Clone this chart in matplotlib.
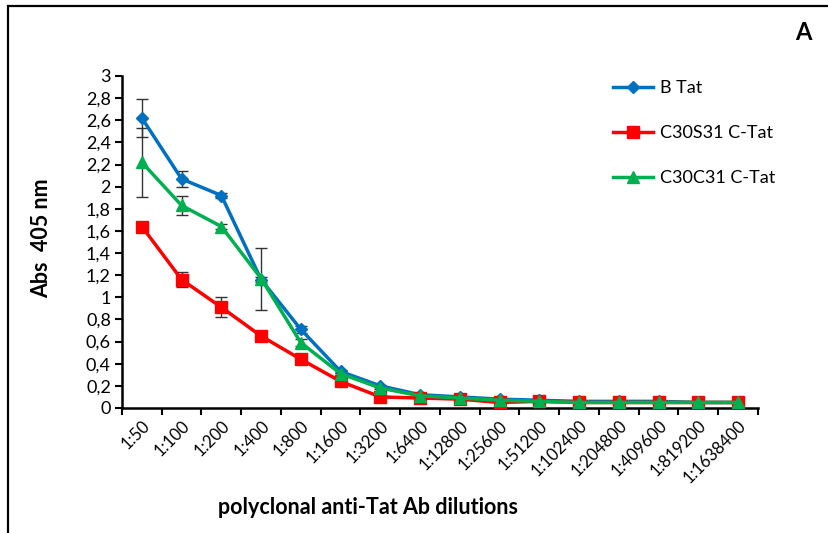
import matplotlib
matplotlib.use("Agg")
import matplotlib.pyplot as plt
from matplotlib.patches import Rectangle
from matplotlib.ticker import FuncFormatter, FixedLocator
import numpy as np

plt.rcParams['font.family'] = ['Lato', 'DejaVu Sans']

dilutions = ["1:50", "1:100", "1:200", "1:400", "1:800", "1:1600", "1:3200", "1:6400",
             "1:12800", "1:25600", "1:51200", "1:102400", "1:204800", "1:409600",
             "1:819200", "1:1638400"]

b_tat = [2.62, 2.07, 1.92, 1.16, 0.71, 0.33, 0.20, 0.12, 0.10, 0.08, 0.07, 0.06, 0.06, 0.06, 0.05, 0.05]
b_tat_err = [0.17, 0.07, 0.02, 0.02, 0.03, 0.01, 0.01, 0.01, 0.01, 0.0, 0.0, 0.0, 0.0, 0.0, 0.0, 0.0]

c30s31 = [1.64, 1.16, 0.91, 0.65, 0.44, 0.24, 0.10, 0.09, 0.08, 0.05, 0.06, 0.05, 0.05, 0.05, 0.05, 0.05]
c30s31_err = [0.0, 0.07, 0.09, 0.03, 0.01, 0.01, 0.01, 0.01, 0.0, 0.0, 0.0, 0.0, 0.0, 0.0, 0.0, 0.0]

c30c31 = [2.22, 1.83, 1.64, 1.17, 0.59, 0.31, 0.18, 0.11, 0.09, 0.07, 0.06, 0.05, 0.05, 0.05, 0.05, 0.05]
c30c31_err = [0.31, 0.09, 0.02, 0.28, 0.03, 0.01, 0.01, 0.01, 0.0, 0.0, 0.0, 0.0, 0.0, 0.0, 0.0, 0.0]

fig = plt.figure(figsize=(8.29, 5.33), dpi=100)

# outer frame running off the right and bottom edges
fig.patches.append(Rectangle((8 / 829, -0.1), 1.2, 1 - 6 / 533 + 0.1,
                             transform=fig.transFigure, fill=False,
                             edgecolor='black', linewidth=1.6))

ax = fig.add_axes([122 / 829, 1 - 408 / 533, (758 - 122) / 829, (408 - 76) / 533])
x = np.arange(len(dilutions))

err_kw = dict(ecolor='#333333', elinewidth=1.0, capsize=4, capthick=1.0)
series = [
    ("B Tat", b_tat, b_tat_err, '#0070C0', 'D', 6),
    ("C30S31 C-Tat", c30s31, c30s31_err, '#FF0000', 's', 8),
    ("C30C31 C-Tat", c30c31, c30c31_err, '#00B050', '^', 8),
]
handles = []
for name, vals, errs, col, mk, ms in series:
    ax.errorbar(x, vals, yerr=errs, fmt='none', zorder=2, **err_kw)
    h, = ax.plot(x, vals, color=col, marker=mk, markersize=ms, linewidth=2.5,
                 label=name, zorder=3)
    handles.append(h)


def comma_fmt(v, pos):
    if abs(v - round(v)) < 1e-6:
        return str(int(round(v)))
    return f"{v:.1f}".replace('.', ',')


ax.set_xlim(-0.5, len(dilutions) - 0.5)
ax.set_ylim(0, 3)
ax.set_yticks(np.arange(0, 3.01, 0.2))
ax.yaxis.set_major_formatter(FuncFormatter(comma_fmt))

# category boundaries carry the tick marks, centres carry the labels
ax.xaxis.set_major_locator(FixedLocator(np.arange(-0.5, len(dilutions), 1.0)))
ax.set_xticklabels([])
ax.xaxis.set_minor_locator(FixedLocator(x))
ax.set_xticklabels(dilutions, minor=True, rotation=45, ha='right',
                   rotation_mode='anchor', fontsize=12)
ax.tick_params(axis='x', which='minor', length=0, pad=7)
ax.tick_params(axis='x', which='major', length=5, width=1.5, direction='out')
ax.tick_params(axis='y', length=5, width=1.5, direction='out', labelsize=13, pad=3)

for s in ['top', 'right']:
    ax.spines[s].set_visible(False)
for s in ['left', 'bottom']:
    ax.spines[s].set_linewidth(1.8)

fig.text(42 / 829, 1 - 238 / 533, "Abs  405 nm", fontsize=15.5, fontweight='bold',
         rotation=90, ha='center', va='center')
fig.text(368 / 829, 1 - 508 / 533, "polyclonal anti-Tat Ab dilutions",
         fontsize=15.5, fontweight='bold', ha='center', va='center')
fig.text(803 / 829, 1 - 33 / 533, "A", fontsize=17, fontweight='bold',
         ha='center', va='center')

fig.legend(handles=handles, loc='upper left', bbox_to_anchor=(597 / 829, 1 - 64 / 533),
           frameon=False, fontsize=13, handlelength=2.2, labelspacing=1.6,
           handletextpad=0.4)

fig.savefig("out.png", dpi=100)
